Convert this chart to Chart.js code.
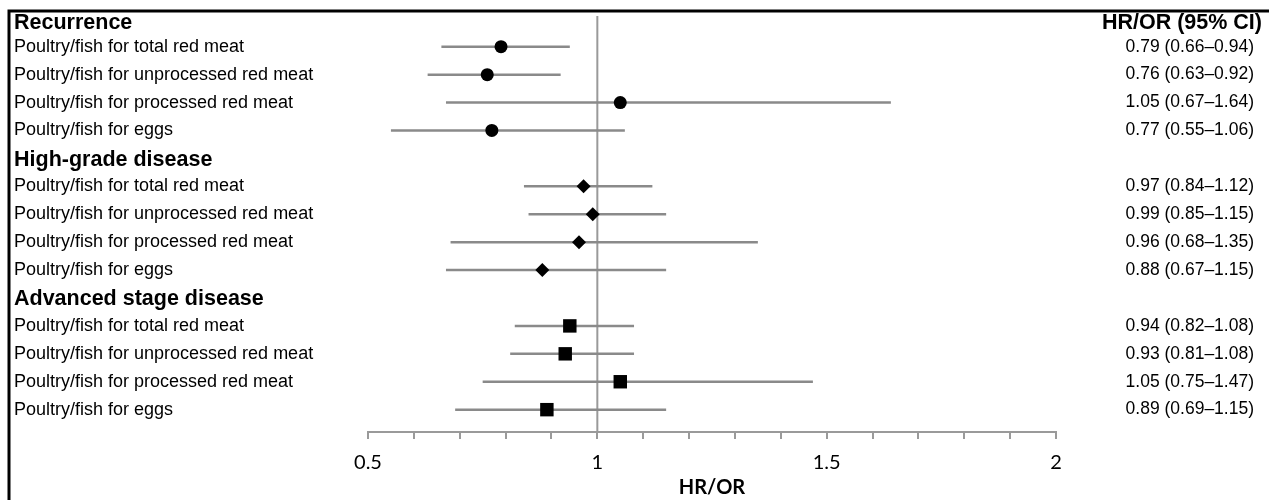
<!DOCTYPE html>
<html>
<head>
<meta charset="utf-8">
<script src="https://cdn.jsdelivr.net/npm/chart.js@4"></script>
<style>
  html, body { margin: 0; padding: 0; background: #fff; }
  #wrap { width: 1269px; height: 500px; position: relative; }
</style>
</head>
<body>
<div id="wrap"><canvas id="forest" width="1269" height="500"></canvas></div>
<script>
// section headers and the four comparisons used in each section
const groups = ["Recurrence", "High-grade disease", "Advanced stage disease"]
const comparisons = [
  "Poultry/fish for total red meat",
  "Poultry/fish for unprocessed red meat",
  "Poultry/fish for processed red meat",
  "Poultry/fish for eggs"
]

// point estimates and 95% CI per section
const recurrenceEst = [0.79, 0.76, 1.05, 0.77]
const recurrenceLow = [0.66, 0.63, 0.67, 0.55]
const recurrenceHigh = [0.94, 0.92, 1.64, 1.06]

const highGradeEst = [0.97, 0.99, 0.96, 0.88]
const highGradeLow = [0.84, 0.85, 0.68, 0.67]
const highGradeHigh = [1.12, 1.15, 1.35, 1.15]

const advancedEst = [0.94, 0.93, 1.05, 0.89]
const advancedLow = [0.82, 0.81, 0.75, 0.69]
const advancedHigh = [1.08, 1.08, 1.47, 1.15]

const xTickLabels = ["0.5", "1", "1.5", "2"]

const sections = [
  {est: recurrenceEst, low: recurrenceLow, high: recurrenceHigh, marker: "circle", radius: 6.5},
  {est: highGradeEst, low: highGradeLow, high: highGradeHigh, marker: "rectRot", radius: 7},
  {est: advancedEst, low: advancedLow, high: advancedHigh, marker: "rect", radius: 9.5}
]

// headers sit a little lower than the row grid (first one clears the frame)
const headerShift = [4, 2, 1]

// row index: header of section g is g*5, its items follow
function rowOf(g, j){ return g * 5 + 1 + j }

function fmt(v){ return v.toFixed(2) }

const datasets = sections.map((s, g) => ({
  data: s.est.map((v, j) => ({x: v, y: rowOf(g, j)})),
  pointStyle: s.marker,
  pointRadius: s.radius,
  pointHoverRadius: s.radius,
  backgroundColor: "#000",
  borderColor: "#000",
  borderWidth: 0
}))

const forestExtras = {
  id: "forestExtras",
  beforeDatasetsDraw(chart){
    const ctx = chart.ctx
    const xs = chart.scales.x
    const ys = chart.scales.y
    const area = chart.chartArea
    ctx.save()
    // no-effect line
    ctx.strokeStyle = "#9a9a9a"
    ctx.lineWidth = 2
    ctx.beginPath()
    ctx.moveTo(xs.getPixelForValue(1), area.top)
    ctx.lineTo(xs.getPixelForValue(1), area.bottom)
    ctx.stroke()
    // confidence intervals
    ctx.strokeStyle = "#8a8a8a"
    ctx.lineWidth = 2.5
    sections.forEach((s, g) => {
      s.est.forEach((v, j) => {
        const y = ys.getPixelForValue(rowOf(g, j))
        ctx.beginPath()
        ctx.moveTo(xs.getPixelForValue(s.low[j]), y)
        ctx.lineTo(xs.getPixelForValue(s.high[j]), y)
        ctx.stroke()
      })
    })
    ctx.restore()
  },
  afterDraw(chart){
    const ctx = chart.ctx
    const ys = chart.scales.y
    ctx.save()
    ctx.fillStyle = "#000"
    ctx.textBaseline = "middle"

    groups.forEach((name, g) => {
      const yh = ys.getPixelForValue(g * 5) + headerShift[g]
      ctx.textAlign = "left"
      ctx.font = "bold 21.5px 'Liberation Sans', Arial, sans-serif"
      ctx.fillText(name, 14, yh)
      const s = sections[g]
      comparisons.forEach((label, j) => {
        const y = ys.getPixelForValue(rowOf(g, j))
        ctx.textAlign = "left"
        ctx.font = "18px 'Liberation Sans', Arial, sans-serif"
        ctx.fillText(label, 14, y)
        ctx.textAlign = "right"
        ctx.font = "17.5px 'Liberation Sans', Arial, sans-serif"
        ctx.fillText(fmt(s.est[j]) + " (" + fmt(s.low[j]) + "\u2013" + fmt(s.high[j]) + ")", 1254, y)
      })
    })
    ctx.textAlign = "right"
    ctx.font = "bold 21.5px 'Liberation Sans', Arial, sans-serif"
    ctx.fillText("HR/OR (95% CI)", 1262, ys.getPixelForValue(0) + headerShift[0])

    // frame
    ctx.strokeStyle = "#000"
    ctx.lineWidth = 3
    ctx.beginPath()
    ctx.moveTo(1269, 11)
    ctx.lineTo(9, 11)
    ctx.lineTo(9, 500)
    ctx.stroke()
    ctx.restore()
  }
}

const config = {
  type: "scatter",
  data: {datasets: datasets},
  options: {
    responsive: false,
    animation: false,
    events: [],
    layout: {padding: {left: 368, right: 213, top: 16, bottom: 0}},
    plugins: {
      legend: {display: false},
      tooltip: {enabled: false}
    },
    scales: {
      x: {
        type: "linear",
        min: 0.5,
        max: 2,
        afterFit(s){ s.height = 68 },
        ticks: {
          stepSize: 0.1,
          autoSkip: false,
          maxRotation: 0,
          padding: 12,
          color: "#000",
          font: {family: "Lato", size: 20},
          callback(v){
            const hit = xTickLabels.find(t => Math.abs(Number(t) - v) < 1e-6)
            return hit ? hit : ""
          }
        },
        grid: {
          drawOnChartArea: false,
          drawTicks: true,
          tickLength: 7,
          tickColor: "#9a9a9a",
          lineWidth: 2
        },
        border: {display: true, color: "#9a9a9a", width: 2},
        title: {
          display: true,
          text: "HR/OR",
          color: "#000",
          font: {family: "Lato", size: 20, weight: "bold"},
          padding: {top: 0, bottom: 0}
        }
      },
      y: {
        type: "linear",
        display: false,
        reverse: true,
        min: -0.1,
        max: 14.8
      }
    }
  },
  plugins: [forestExtras]
}

new Chart(document.getElementById("forest"), config)
</script>
</body>
</html>
